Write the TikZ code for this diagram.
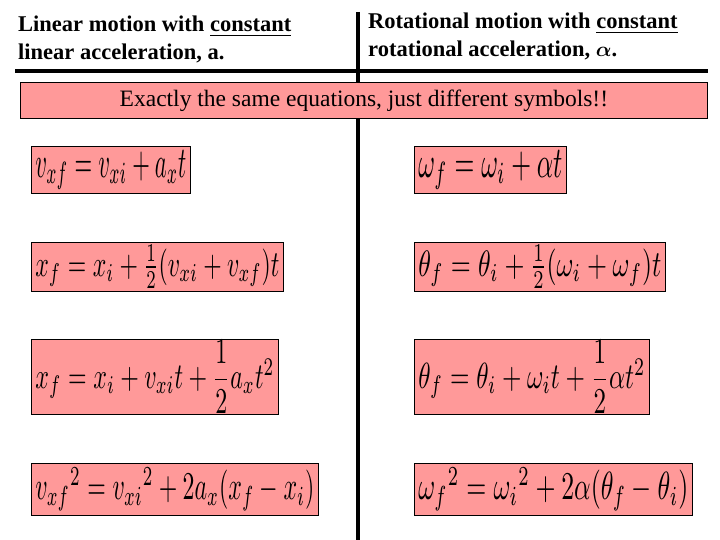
\documentclass[tikz,border=0pt]{standalone}
\usepackage{amsmath}
\usepackage{fontspec}
\setmainfont{Liberation Serif}
\newfontfamily\tms{Liberation Serif}
\definecolor{pinkbox}{HTML}{FF9999}
\begin{document}
\begin{tikzpicture}[x=1pt,y=-1pt,
  eqbox/.style={draw=black,fill=pinkbox,line width=0.8pt,anchor=north west,inner sep=0pt},
  title/.style={anchor=north west,align=left,font=\tms\fontsize{22.5}{28}\selectfont\bfseries,inner sep=0pt},
  thick line/.style={line width=4pt}]
\useasboundingbox (0,0) rectangle (720,540);
\coordinate (vt) at (358,12);
\coordinate (vb) at (358,540);
\draw[thick line] (vt) -- (vb);
\coordinate (hl1) at (15,71); \coordinate (hl2) at (357,71);
\coordinate (hr1) at (360,71); \coordinate (hr2) at (708,71);
\draw[thick line] (hl1) -- (hl2);
\draw[thick line] (hr1) -- (hr2);
\node[title] (tl) at (18,16) {Linear motion with \underline{constant}\\linear acceleration, a.};
\node[title] (tr) at (368,13) {Rotational motion with \underline{constant}\\rotational acceleration, $\boldsymbol{\alpha}$.};
\node[draw=black,fill=pinkbox,line width=0.8pt,anchor=north west,minimum width=687pt,minimum height=36pt,font=\tms\fontsize{23.5}{26}\selectfont] (banner) at (20,82) {Exactly the same equations, just different symbols!!};
\newcommand{\eqn}[4]{\parbox[c][#2pt][c]{#1pt}{\centering\resizebox{\dimexpr#1pt-8pt}{#3pt}{$#4$}}}
\node[eqbox] (l1) at (31,146) {\eqn{159}{47}{27}{v_{xf}=v_{xi}+a_xt}};
\node[eqbox] (r1) at (414,146) {\eqn{152}{47}{27}{\omega_f=\omega_i+\alpha t}};
\node[eqbox] (l2) at (31,242) {\eqn{252}{49}{31}{x_f=x_i+\tfrac12(v_{xi}+v_{xf})t}};
\node[eqbox] (r2) at (414,242) {\eqn{251}{49}{31}{\theta_f=\theta_i+\tfrac12(\omega_i+\omega_f)t}};
\node[eqbox] (l3) at (31,339) {\eqn{247}{75}{48}{x_f=x_i+v_{xi}t+\dfrac12a_xt^2}};
\node[eqbox] (r3) at (414,339) {\eqn{235}{75}{48}{\theta_f=\theta_i+\omega_it+\dfrac12\alpha t^2}};
\node[eqbox] (l4) at (31,463) {\eqn{287}{52}{32}{v_{xf}{}^2=v_{xi}{}^2+2a_x(x_f-x_i)}};
\node[eqbox] (r4) at (414,463) {\eqn{278}{52}{32}{\omega_f{}^2=\omega_i{}^2+2\alpha(\theta_f-\theta_i)}};
\end{tikzpicture}
\end{document}
